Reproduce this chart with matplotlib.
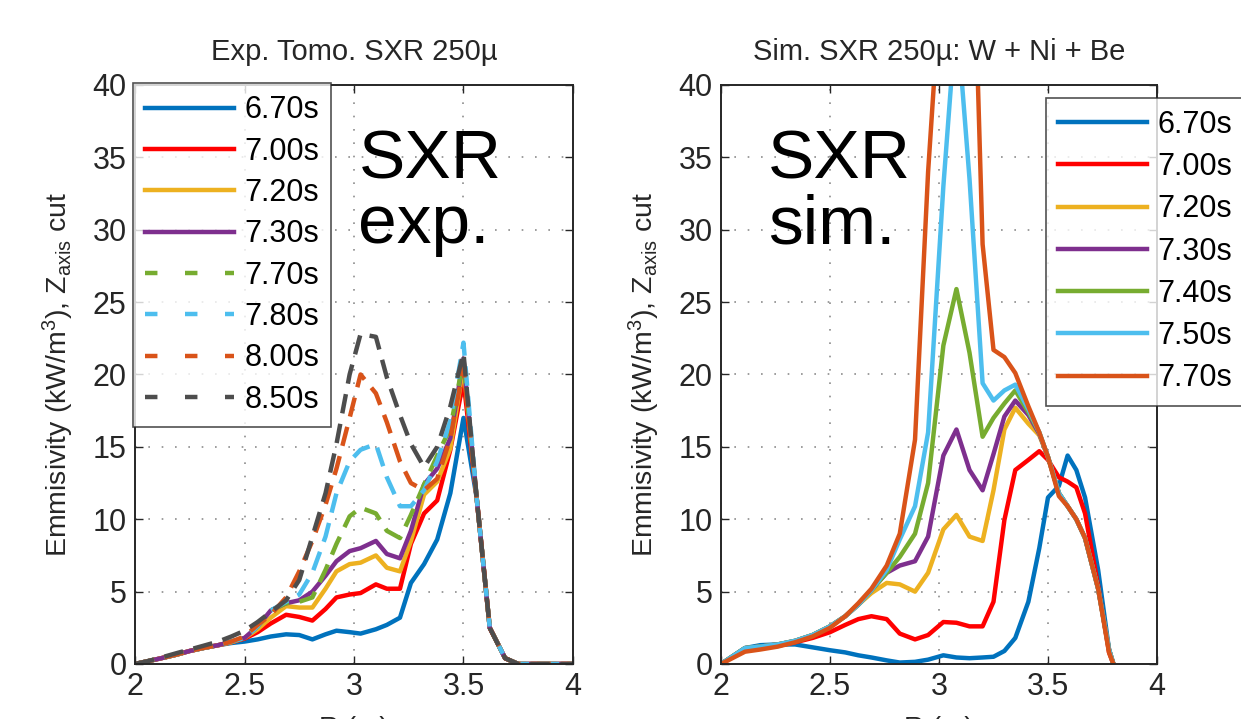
import matplotlib
matplotlib.use("Agg")
import matplotlib.pyplot as plt
from matplotlib import font_manager
from matplotlib.lines import Line2D

# radial positions (m) and emissivity profiles (kW/m^3) along the Z axis cut
R_exp = [2.00, 2.06, 2.12, 2.19, 2.25, 2.31, 2.38, 2.44, 2.50, 2.56, 2.62, 2.69,
         2.75, 2.81, 2.87, 2.92, 2.98, 3.03, 3.10, 3.15, 3.21, 3.26, 3.32, 3.38,
         3.44, 3.50, 3.56, 3.62, 3.69, 3.75, 3.81, 3.88, 3.94, 4.00]

exp_670 = [0, 0.2, 0.4, 0.65, 0.9, 1.1, 1.3, 1.45, 1.55, 1.7, 1.9, 2.05, 2.0, 1.7, 2.05,
           2.3, 2.2, 2.1, 2.4, 2.7, 3.2, 5.6, 6.9, 8.6, 11.8, 17.0, 11.5, 2.5, 0.4, 0, 0, 0, 0, 0]
exp_700 = [0, 0.2, 0.4, 0.65, 0.9, 1.1, 1.3, 1.5, 1.75, 2.2, 2.8, 3.4, 3.25, 3.0, 3.8,
           4.6, 4.8, 4.9, 5.5, 5.2, 5.2, 8.3, 10.4, 11.3, 14.8, 19.6, 11.5, 2.5, 0.4, 0, 0, 0, 0, 0]
exp_720 = [0, 0.2, 0.4, 0.65, 0.9, 1.1, 1.3, 1.5, 1.8, 2.4, 3.2, 4.0, 3.9, 3.9, 5.2,
           6.4, 6.9, 7.0, 7.5, 6.65, 6.4, 8.5, 11.7, 12.6, 14.9, 20.6, 11.5, 2.5, 0.4, 0, 0, 0, 0, 0]
exp_730 = [0, 0.2, 0.4, 0.65, 0.9, 1.1, 1.3, 1.55, 1.8, 2.6, 3.7, 4.2, 4.4, 5.0, 6.1,
           7.1, 7.8, 8.0, 8.5, 7.6, 7.3, 9.2, 12.4, 13.5, 15.6, 21.1, 11.5, 2.5, 0.4, 0, 0, 0, 0, 0]
exp_770 = [0, 0.2, 0.4, 0.65, 0.9, 1.1, 1.3, 1.55, 1.8, 2.6, 3.7, 4.2, 4.3, 4.6, 6.5,
           8.3, 10.2, 10.8, 10.4, 9.2, 8.7, 10.3, 12.4, 14.4, 16.3, 21.0, 11.5, 2.5, 0.4, 0, 0, 0, 0, 0]
exp_780 = [0, 0.2, 0.4, 0.65, 0.9, 1.1, 1.3, 1.55, 1.8, 2.6, 3.7, 4.3, 4.8, 6.3, 8.8,
           11.8, 14.0, 14.8, 15.2, 12.9, 10.9, 10.9, 12.0, 14.0, 16.8, 22.2, 11.5, 2.5, 0.4, 0, 0, 0, 0, 0]
exp_800 = [0, 0.2, 0.4, 0.65, 0.9, 1.1, 1.3, 1.55, 1.9, 2.7, 3.4, 4.6, 6.4, 8.5, 11.0,
           13.5, 17.0, 20.0, 18.7, 16.7, 14.0, 12.5, 12.0, 12.8, 15.6, 20.5, 11.5, 2.5, 0.4, 0, 0, 0, 0, 0]
exp_850 = [0, 0.2, 0.45, 0.75, 1.0, 1.25, 1.55, 1.9, 2.3, 2.9, 3.6, 4.4, 5.8, 8.8, 11.8,
           15.2, 20.0, 22.8, 22.6, 19.8, 17.2, 15.2, 13.6, 15.0, 17.8, 21.5, 11.5, 2.5, 0.4, 0, 0, 0, 0, 0]

R_sim = [2.00, 2.11, 2.18, 2.26, 2.34, 2.42, 2.50, 2.57, 2.63, 2.69, 2.76, 2.82, 2.89,
         2.95, 3.02, 3.08, 3.14, 3.20, 3.25, 3.30, 3.35, 3.41, 3.46, 3.50, 3.55, 3.59,
         3.63, 3.67, 3.73, 3.78, 3.80]

sim_670 = [0, 1.1, 1.3, 1.35, 1.35, 1.15, 0.95, 0.8, 0.6, 0.45, 0.25, 0.1, 0.15, 0.3, 0.6, 0.45,
           0.4, 0.45, 0.5, 0.9, 1.8, 4.3, 8.0, 11.5, 12.3, 14.4, 13.4, 11.5, 6.5, 1.0, 0]
sim_700 = [0, 1.0, 1.1, 1.25, 1.5, 1.8, 2.2, 2.7, 3.1, 3.3, 3.1, 2.1, 1.7, 2.0, 2.9, 2.85,
           2.6, 2.6, 4.3, 9.95, 13.4, 14.1, 14.7, 14.1, 12.9, 12.6, 12.2, 10.4, 5.4, 0.8, 0]
sim_720 = [0, 1.1, 1.2, 1.35, 1.6, 2.0, 2.6, 3.3, 4.1, 4.9, 5.6, 5.5, 5.0, 6.3, 9.3, 10.3,
           8.8, 8.5, 12.0, 16.2, 17.7, 16.6, 15.8, 14.3, 11.8, 10.9, 10.0, 8.7, 5.2, 1.0, 0]
sim_730 = [0, 1.1, 1.2, 1.35, 1.6, 2.0, 2.6, 3.3, 4.1, 5.1, 6.3, 6.8, 7.1, 8.8, 14.4, 16.2,
           13.4, 12.0, 14.5, 17.1, 18.2, 17.2, 15.9, 14.3, 11.8, 10.9, 10.0, 8.7, 5.2, 1.0, 0]
sim_740 = [0, 1.1, 1.2, 1.35, 1.6, 2.0, 2.6, 3.3, 4.1, 5.1, 6.3, 7.4, 9.0, 12.5, 22.0, 25.9,
           21.5, 15.7, 17.0, 18.0, 18.9, 17.4, 16.0, 14.3, 11.8, 10.9, 10.0, 8.7, 5.2, 1.0, 0]
sim_750 = [0, 1.1, 1.2, 1.35, 1.6, 2.0, 2.6, 3.3, 4.1, 5.1, 6.5, 8.6, 10.9, 16.0, 33.0, 45.0,
           33.5, 19.4, 18.2, 18.9, 19.3, 17.6, 16.0, 14.3, 11.8, 10.9, 10.0, 8.7, 5.2, 1.0, 0]
sim_770 = [0, 0.85, 1.0, 1.2, 1.5, 1.9, 2.5, 3.3, 4.2, 5.2, 6.8, 9.0, 15.5, 34.0, 50.0, 58.0,
           60.0, 29.0, 21.7, 21.2, 20.1, 17.8, 16.0, 14.3, 11.6, 10.9, 10.0, 8.7, 5.2, 0.8, 0]

exp_labels = ['6.70s', '7.00s', '7.20s', '7.30s', '7.70s', '7.80s', '8.00s', '8.50s']
sim_labels = ['6.70s', '7.00s', '7.20s', '7.30s', '7.40s', '7.50s', '7.70s']

blue, red, yellow, purple = '#0072BD', '#FF0000', '#EDB120', '#7E2F8E'
green, cyan, orange, grey = '#77AC30', '#4DBEEE', '#D95319', '#4D4D4D'

exp_series = [exp_670, exp_700, exp_720, exp_730, exp_770, exp_780, exp_800, exp_850]
exp_colors = [blue, red, yellow, purple, green, cyan, orange, grey]
exp_dashed = [False] * 4 + [True] * 4
sim_series = [sim_670, sim_700, sim_720, sim_730, sim_740, sim_750, sim_770]
sim_colors = [blue, red, yellow, purple, green, cyan, orange]

installed = {f.name for f in font_manager.fontManager.ttflist}
ui_font = 'Liberation Sans Narrow' if 'Liberation Sans Narrow' in installed else 'Liberation Sans'
plt.rcParams['font.family'] = [ui_font, 'DejaVu Sans']
plt.rcParams['mathtext.default'] = 'regular'

LW = 3.2
DASH = (0, (4.4, 2.4))
TICK_FS = 22

fig = plt.figure(figsize=(12.41, 7.19), dpi=100)
ax1 = fig.add_axes([0.1088, 0.0765, 0.3529, 0.8053])
ax2 = fig.add_axes([0.5810, 0.0765, 0.3513, 0.8053])


def style_axes(ax, title):
    ax.set_xlim(2, 4)
    ax.set_ylim(0, 40)
    ax.set_xticks([2, 2.5, 3, 3.5, 4])
    ax.set_xticklabels(['2', '2.5', '3', '3.5', '4'])
    ax.set_yticks(range(0, 45, 5))
    ax.grid(True, color='#8c8c8c', linestyle=(0, (1, 7)), linewidth=1.2)
    ax.tick_params(direction='in', top=True, right=True, length=6, width=1.0,
                   labelsize=TICK_FS, colors='#262626', pad=6)
    for sp in ax.spines.values():
        sp.set_color('#262626')
        sp.set_linewidth(1.4)
    ax.set_title(title, fontsize=21, color='#262626', pad=18)
    ax.set_ylabel('Emmisivity (kW/m$^3$), Z$_{axis}$ cut', fontsize=20.5,
                  color='#262626', labelpad=12)
    ax.set_xlabel('R (m)', fontsize=20, color='#262626', labelpad=10)


# experimental tomography profiles
for y, c, d, lab in zip(exp_series, exp_colors, exp_dashed, exp_labels):
    ax1.plot(R_exp, y, color=c, lw=LW, linestyle=DASH if d else '-', label=lab)
style_axes(ax1, 'Exp. Tomo. SXR 250\u00b5')
handles = [Line2D([], [], color=c, lw=LW, linestyle=(0, (2.8, 6.2)) if d else '-')
           for c, d in zip(exp_colors, exp_dashed)]
leg1 = ax1.legend(handles, exp_labels, loc='upper left', bbox_to_anchor=(-0.005, 1.003),
                  fontsize=TICK_FS, handlelength=2.9, handletextpad=0.35,
                  labelspacing=0.37, borderpad=0.4, borderaxespad=0, fancybox=False)
leg1.get_frame().set_edgecolor('#262626')
leg1.get_frame().set_linewidth(1.2)
ax1.text(3.02, 37.0, 'SXR\nexp.', fontsize=50, family='Liberation Sans',
         va='top', ha='left', linespacing=1.02)

# simulated profiles
for y, c, lab in zip(sim_series, sim_colors, sim_labels):
    ax2.plot(R_sim, y, color=c, lw=LW, label=lab)
style_axes(ax2, 'Sim. SXR 250\u00b5: W + Ni + Be')
leg2 = ax2.legend(loc='upper left', bbox_to_anchor=(0.745, 0.978),
                  fontsize=TICK_FS, handlelength=2.9, handletextpad=0.35,
                  labelspacing=0.4, borderpad=0.4, borderaxespad=0, fancybox=False)
leg2.get_frame().set_edgecolor('#262626')
leg2.get_frame().set_linewidth(1.2)
ax2.text(2.215, 37.0, 'SXR\nsim.', fontsize=50, family='Liberation Sans',
         va='top', ha='left', linespacing=1.02)

fig.savefig('out.png', dpi=100)
